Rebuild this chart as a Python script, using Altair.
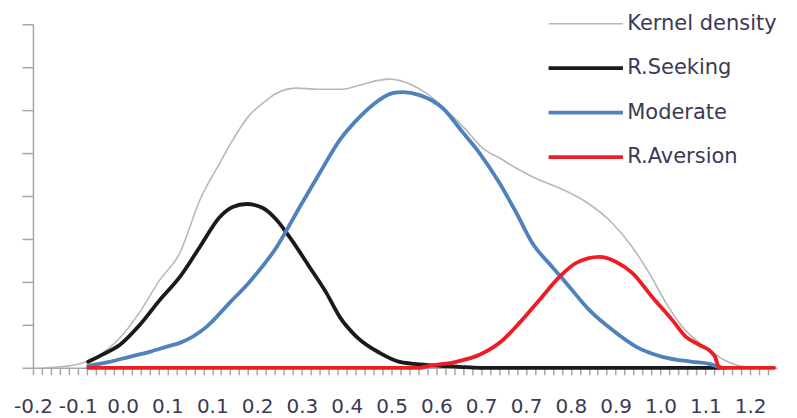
import altair as alt
import pandas as pd

SERIES = ["Kernel density", "R.Seeking", "Moderate", "R.Aversion"]
COLORS = ["#b8b8b8", "#1a1a1a", "#4f81bd", "#ee1c25"]
WIDTHS = [1.6, 3.8, 3.8, 3.8]

X_LABELS = ["-0.2", "-0.1", "0.0", "0.1", "0.1", "0.2", "0.3", "0.4", "0.5",
            "0.6", "0.7", "0.7", "0.8", "0.9", "1.0", "1.1", "1.2"]

kernel_x = [-0.185, -0.156, -0.117, -0.078, -0.039, 0.000, 0.039, 0.078, 0.117, 0.156,
            0.181, 0.214, 0.240, 0.267, 0.306, 0.345, 0.396, 0.429, 0.468, 0.487,
            0.532, 0.559, 0.598, 0.637, 0.669, 0.702, 0.741, 0.780, 0.819, 0.871,
            0.922, 0.961, 0.994, 1.027, 1.059, 1.092, 1.111, 1.140, 1.170, 1.209, 1.238]
kernel_y = [0.0, 0.023, 0.093, 0.302, 0.698, 1.302, 2.047, 2.674, 3.907, 4.767,
            5.302, 5.884, 6.163, 6.395, 6.512, 6.488, 6.488, 6.581, 6.698, 6.721,
            6.581, 6.395, 6.000, 5.535, 5.116, 4.884, 4.605, 4.372, 4.186, 3.860,
            3.372, 2.814, 2.209, 1.512, 0.953, 0.581, 0.419, 0.186, 0.047, 0.0, 0.0]

seeking_x = [-0.101, -0.078, -0.039, 0.000, 0.039, 0.078, 0.117, 0.156, 0.181, 0.208,
             0.240, 0.267, 0.292, 0.331, 0.364, 0.390, 0.423, 0.468, 0.507, 0.559,
             0.624, 0.663, 1.131]
seeking_y = [0.140, 0.279, 0.535, 1.000, 1.581, 2.116, 2.814, 3.512, 3.744, 3.814,
             3.721, 3.442, 3.047, 2.349, 1.744, 1.186, 0.721, 0.349, 0.140, 0.070,
             0.023, 0.0, 0.0]

moderate_x = [-0.101, -0.059, -0.020, 0.019, 0.058, 0.078, 0.130, 0.175, 0.214, 0.267,
              0.312, 0.351, 0.390, 0.423, 0.454, 0.493, 0.513, 0.546, 0.591, 0.630,
              0.663, 0.702, 0.735, 0.766, 0.805, 0.832, 0.877, 0.922, 0.969, 1.020,
              1.078, 1.111, 1.131, 1.140]
moderate_y = [0.047, 0.140, 0.256, 0.372, 0.512, 0.581, 0.953, 1.512, 2.000, 2.814,
              3.744, 4.535, 5.302, 5.767, 6.116, 6.395, 6.419, 6.349, 6.047, 5.488,
              5.000, 4.302, 3.605, 2.907, 2.349, 1.977, 1.349, 0.884, 0.488, 0.256,
              0.140, 0.093, 0.023, 0.0]

aversion_x = [-0.101, 0.546, 0.565, 0.618, 0.663, 0.702, 0.741, 0.780, 0.819, 0.852,
              0.897, 0.930, 0.961, 1.000, 1.039, 1.066, 1.092, 1.115, 1.123, 1.131, 1.238]
aversion_y = [0.0, 0.0, 0.047, 0.140, 0.302, 0.581, 1.047, 1.581, 2.116, 2.442,
              2.581, 2.465, 2.209, 1.651, 1.116, 0.721, 0.535, 0.372, 0.256, 0.0, 0.0]

rows = []
for name, xs, ys in [("Kernel density", kernel_x, kernel_y),
                     ("R.Seeking", seeking_x, seeking_y),
                     ("Moderate", moderate_x, moderate_y),
                     ("R.Aversion", aversion_x, aversion_y)]:
    for i, (a, b) in enumerate(zip(xs, ys)):
        rows.append({"x": a, "y": b, "series": name, "i": i})
df = pd.DataFrame(rows)

X0 = -0.20875
STEP = 0.0175
NCAT = 83
X1 = round(X0 + STEP * NCAT, 5)
# category centres; ticks are drawn shifted to category boundaries
tick_values = [round(X0 + STEP * (k + 0.5), 5) for k in range(NCAT)]

arr = "[" + ",".join("'" + s + "'" for s in X_LABELS) + "]"
kexpr = f"round((datum.value - ({X0})) / {STEP} - 0.5)"
label_expr = f"({kexpr}) % 5 == 0 && ({kexpr}) / 5 < {len(X_LABELS)} ? {arr}[({kexpr}) / 5] : ''"

FONT = "DejaVu Sans"
TXT = "#3a3a55"
AXC = "#a6a6a6"

legend = alt.Legend(
    title=None, orient="none", legendX=543, legendY=-11,
    symbolType="M-6.2,0H6.2", symbolSize=144, labelOffset=31,
    labelFont=FONT, labelFontSize=21, labelColor=TXT, labelLimit=400,
    rowPadding=22.5,
)

chart = alt.Chart(df).mark_line(interpolate="monotone", strokeCap="round").encode(
    x=alt.X("x:Q",
            scale=alt.Scale(domain=[X0, X1], nice=False, zero=False),
            axis=alt.Axis(values=tick_values, labelExpr=label_expr, title=None, grid=False,
                          tickSize=7, tickColor=AXC, tickWidth=1.5, tickOffset=-4.49,
                          domainColor=AXC, domainWidth=1.5,
                          labelPadding=22, labelFont=FONT, labelFontSize=20,
                          labelColor=TXT, labelOverlap=False, labelFlush=False, labelBound=False)),
    y=alt.Y("y:Q",
            scale=alt.Scale(domain=[0, 8], nice=False, zero=True),
            axis=alt.Axis(values=list(range(9)), labels=False, title=None, grid=False,
                          tickSize=11, tickColor=AXC, tickWidth=1.5, domainColor=AXC, domainWidth=1.5)),
    color=alt.Color("series:N", scale=alt.Scale(domain=SERIES, range=COLORS), legend=legend),
    strokeWidth=alt.StrokeWidth("series:N",
                                scale=alt.Scale(type="ordinal", domain=SERIES, range=WIDTHS),
                                legend=legend),
    order="i:Q",
).properties(
    width=745, height=344, autosize="none",
    padding={"left": 25, "top": 16, "right": 12, "bottom": 50},
    background="white",
).configure_view(stroke=None)

chart.save("out.html", embed_options={"renderer": "svg", "actions": False})
